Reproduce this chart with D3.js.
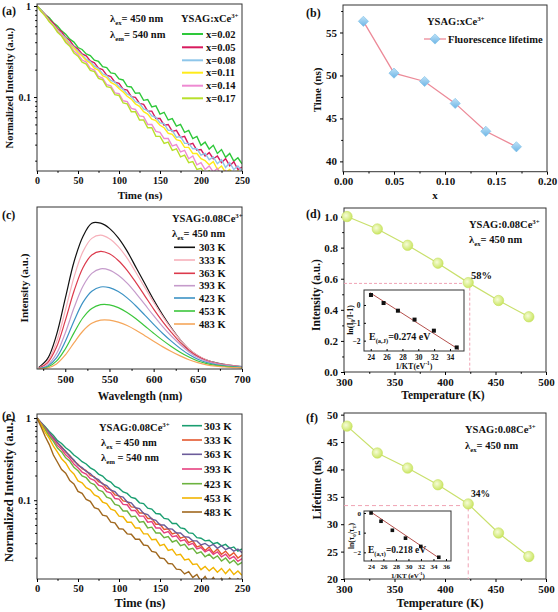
<!DOCTYPE html>
<html><head><meta charset="utf-8">
<script src="https://cdn.jsdelivr.net/npm/d3@7"></script>
<style>
body{margin:0;background:#fff}
svg{display:block}
text{font-family:"Liberation Serif","Times New Roman",serif;font-weight:bold;fill:#111}
</style></head><body>
<svg id="chart" width="558" height="612"></svg>
<script>
// ---------- DATA ----------
const timeNs = [0,5,10,15,20,25,30,35,40,45,50,55,60,65,70,75,80,85,90,95,100,105,110,115,120,125,130,135,140,145,150,155,160,165,170,175,180,185,190,195,200,205,210,215,220,225,230,235,240,245,250];

// (a) YSAG:xCe decay curves
const concLabels = ["x=0.02","x=0.05","x=0.08","x=0.11","x=0.14","x=0.17"];
const decayX002 = [1,.905,.808,.741,.655,.602,.533,.49,.432,.401,.35,.333,.298,.286,.254,.246,.216,.211,.184,.181,.158,.154,.131,.129,.11,.111,.092,.094,.078,.08,.065,.068,.056,.058,.048,.05,.041,.043,.035,.037,.0295,.032,.0268,.0295,.024,.0265,.0218,.024,.0198,.0215,.0185];
const decayX005 = [1,.89,.806,.71,.648,.566,.52,.452,.418,.362,.336,.297,.283,.249,.238,.207,.2,.174,.168,.146,.141,.122,.119,.101,.099,.085,.083,.07,.07,.058,.058,.049,.05,.042,.043,.036,.037,.03,.031,.026,.0265,.0225,.0245,.021,.0225,.019,.021,.0175,.0195,.016,.017];
const decayX008 = [1,.884,.79,.69,.62,.55,.49,.445,.39,.355,.318,.29,.26,.245,.218,.205,.18,.172,.152,.146,.13,.122,.108,.102,.089,.086,.074,.071,.062,.06,.052,.051,.043,.043,.036,.037,.031,.031,.027,.027,.023,.024,.0205,.022,.0185,.0205,.0168,.019,.016,.0175,.0155];
const decayX011 = [1,.88,.775,.69,.605,.54,.478,.43,.38,.345,.308,.282,.252,.236,.208,.197,.172,.164,.145,.137,.124,.114,.102,.095,.084,.079,.069,.065,.057,.055,.049,.046,.04,.039,.034,.033,.028,.028,.024,.024,.021,.02,.018,.0195,.016,.0175,.0148,.016,.014,.0155,.0135];
const decayX014 = [1,.875,.79,.68,.615,.53,.48,.41,.375,.32,.294,.255,.242,.206,.198,.168,.162,.137,.133,.111,.109,.091,.089,.075,.073,.062,.061,.05,.05,.042,.041,.035,.035,.029,.03,.025,.026,.021,.0225,.018,.019,.016,.0175,.015,.0165,.0138,.0155,.0132,.015,.0125,.0135];
const decayX017 = [1,.87,.78,.67,.603,.515,.468,.398,.362,.305,.281,.242,.23,.196,.19,.16,.155,.13,.127,.106,.104,.086,.084,.069,.069,.056,.056,.046,.046,.037,.037,.031,.032,.026,.027,.022,.023,.019,.0195,.016,.0165,.0145,.0155,.013,.0145,.0125,.014,.012,.0135,.0118,.013];

// (b) lifetime vs concentration
const concX = [0.02,0.05,0.08,0.11,0.14,0.17];
const lifetimeConc = [56.3,50.27,49.3,46.75,43.5,41.7];

// (c) emission spectra
const wavelengths = [470,480,490,500,510,520,530,540,550,560,570,580,590,600,610,620,630,640,650,660,670,680,690,700];
const tempLabels = ["303 K","333 K","363 K","393 K","423 K","453 K","483 K"];
const spec303 = [.01,.07,.23,.48,.73,.90,.99,.99,.955,.89,.80,.69,.58,.47,.37,.28,.20,.135,.09,.06,.043,.032,.023,.016];
const spec333 = [.007,.053,.182,.396,.626,.797,.887,.909,.885,.831,.753,.655,.554,.453,.359,.274,.199,.136,.091,.061,.042,.031,.023,.016];
const spec363 = [.006,.042,.147,.328,.531,.688,.774,.799,.782,.737,.670,.586,.497,.407,.324,.249,.181,.126,.084,.056,.039,.028,.021,.015];
const spec393 = [.003,.028,.104,.245,.417,.562,.649,.680,.671,.636,.583,.514,.438,.362,.290,.224,.166,.116,.078,.052,.036,.026,.019,.014];
const spec423 = [.002,.019,.076,.187,.328,.452,.528,.557,.552,.526,.483,.428,.366,.303,.243,.189,.140,.098,.066,.044,.030,.022,.016,.011];
const spec453 = [.001,.012,.053,.136,.247,.348,.411,.437,.436,.417,.384,.341,.292,.243,.196,.153,.114,.081,.054,.036,.024,.018,.013,.009];
const spec483 = [.001,.007,.034,.095,.179,.258,.310,.332,.332,.318,.295,.263,.226,.189,.152,.119,.089,.063,.043,.028,.019,.014,.010,.007];

// (d) integrated intensity vs temperature
const temps = [303,333,363,393,423,453,483];
const intensityT = [1.0,0.92,0.815,0.70,0.575,0.46,0.355];
const invKT = [24.03,25.62,27.43,29.53,31.97,34.85];
const lnIntensity = [0.56,0.11,-0.32,-0.82,-1.44,-2.38];
const fitIntensity = [[23.9,0.69],[35.1,-2.49]];

// (e) decay curves vs temperature
const decay303 = [1,.88,.785,.685,.612,.532,.49,.435,.4,.355,.327,.294,.276,.248,.233,.208,.197,.175,.166,.147,.14,.126,.121,.108,.105,.093,.091,.08,.078,.069,.068,.06,.059,.052,.052,.046,.045,.04,.0395,.035,.0345,.032,.0325,.0295,.0305,.0278,.029,.026,.027,.024,.0255];
const decay333 = [1,.865,.765,.655,.58,.495,.447,.386,.35,.3,.273,.242,.229,.2,.192,.168,.161,.139,.135,.116,.113,.098,.096,.083,.082,.07,.07,.06,.06,.051,.051,.044,.045,.039,.0405,.0345,.036,.0305,.032,.027,.028,.0245,.027,.023,.0255,.022,.024,.021,.023,.0198,.0215];
const decay363 = [1,.875,.755,.665,.57,.505,.438,.395,.342,.309,.266,.25,.224,.211,.188,.178,.158,.151,.133,.127,.112,.109,.095,.093,.081,.079,.069,.067,.059,.057,.05,.05,.045,.0445,.04,.04,.036,.0355,.032,.032,.0285,.0298,.0275,.029,.026,.028,.025,.0265,.024,.0255,.023];
const decay393 = [1,.855,.745,.628,.55,.462,.416,.357,.322,.275,.249,.22,.208,.183,.175,.153,.147,.127,.123,.105,.103,.089,.088,.075,.075,.064,.064,.054,.055,.046,.046,.04,.0415,.036,.037,.032,.033,.0285,.0298,.0255,.0265,.0235,.025,.022,.0235,.0205,.022,.0193,.0207,.018,.0195];
const decay423 = [1,.84,.725,.6,.52,.432,.387,.328,.298,.251,.228,.198,.188,.163,.155,.133,.127,.109,.105,.089,.086,.074,.074,.063,.064,.054,.055,.046,.047,.04,.04,.035,.0362,.031,.0325,.028,.029,.0252,.026,.0225,.0235,.0205,.022,.0195,.021,.0182,.0198,.0172,.0186,.0163,.0175];
const decay453 = [1,.83,.67,.565,.455,.385,.32,.284,.234,.209,.172,.163,.142,.134,.116,.11,.095,.091,.078,.075,.064,.063,.054,.054,.046,.046,.039,.039,.033,.0335,.028,.029,.0245,.0252,.0215,.022,.0188,.0192,.0165,.0168,.0143,.0156,.0138,.0152,.0133,.0148,.0128,.0145,.0125,.0138,.0122];
const decay483 = [1,.78,.595,.475,.355,.29,.236,.213,.173,.158,.128,.121,.102,.097,.081,.078,.066,.064,.054,.053,.045,.0445,.039,.0385,.0335,.0335,.0285,.028,.0238,.0232,.0198,.0195,.017,.0168,.0145,.0143,.0127,.0135,.0115,.0125,.0103,.0118,.0098,.0115,.0097,.0112,.0096,.0113,.0098,.0111,.0099];

// (f) lifetime vs temperature
const lifetimeT = [47.9,43.0,40.25,37.2,33.7,28.4,24.1];
const lnLifetime = [0,-0.42,-0.88,-1.28,-1.7,-2.25];
const fitLifetime = [[24,0.05],[34.8,-2.27]];

// tick lists
const timeTicks = [0,50,100,150,200,250], timeMinor = [25,75,125,175,225];
const logMajor = [1,0.1], logMinor = [0.02,0.03,0.04,0.05,0.06,0.07,0.08,0.09,0.2,0.3,0.4,0.5,0.6,0.7,0.8,0.9];
const tempTicks = [300,350,400,450,500], tempMinor = [325,375,425,475];

// colours
const colA = ["#2ec83a","#d81b5e","#8ec6ea","#ffeb1a","#ee8ad2","#b8e02c"];
const colC = ["#111111","#f6b0ba","#dc3a4c","#c59bcb","#3c92c4","#3cc63c","#f5a65a"];
const colE = ["#1a9e70","#e4572e","#6c5c9a","#e6407f","#6cb33f","#f2b400","#a0681e"];

// ---------- HELPERS ----------
const svg = d3.select("#chart");
const defs = svg.append("defs");
const grad = defs.append("radialGradient").attr("id","ballG").attr("cx","40%").attr("cy","40%").attr("r","60%");
grad.append("stop").attr("offset","0%").attr("stop-color","#f6fcd8");
grad.append("stop").attr("offset","100%").attr("stop-color","#cbe665");
const gradB = defs.append("linearGradient").attr("id","diaG").attr("x1","0").attr("y1","0").attr("x2","1").attr("y2","1");
gradB.append("stop").attr("offset","0%").attr("stop-color","#bfe2f7");
gradB.append("stop").attr("offset","100%").attr("stop-color","#6db5e6");

function clip(id,x0,y0,x1,y1){ defs.append("clipPath").attr("id",id).append("rect").attr("x",x0).attr("y",y0).attr("width",x1-x0).attr("height",y1-y0); }
function frame(x0,y0,x1,y1,fill){ svg.append("rect").attr("x",x0).attr("y",y0).attr("width",x1-x0).attr("height",y1-y0).attr("fill",fill||"none").attr("stroke","#333").attr("stroke-width",1); }
function axisX(sc,y,major,minor,fmt,fs,size,pad){
  size=(size===undefined)?3:size; pad=pad||3;
  const a = svg.append("g").attr("transform",`translate(0,${y})`).call(d3.axisBottom(sc).tickValues(major).tickFormat(fmt).tickSize(size).tickPadding(pad));
  a.select(".domain").remove(); a.selectAll("text").attr("font-size",fs);
  if(minor){ const m = svg.append("g").attr("transform",`translate(0,${y})`).call(d3.axisBottom(sc).tickValues(minor).tickFormat("").tickSize(size*0.6)); m.select(".domain").remove(); }
}
function axisY(sc,x,major,minor,fmt,fs,size,pad){
  size=(size===undefined)?3:size; pad=pad||3;
  const a = svg.append("g").attr("transform",`translate(${x},0)`).call(d3.axisLeft(sc).tickValues(major).tickFormat(fmt).tickSize(size).tickPadding(pad));
  a.select(".domain").remove(); a.selectAll("text").attr("font-size",fs);
  if(minor){ const m = svg.append("g").attr("transform",`translate(${x},0)`).call(d3.axisLeft(sc).tickValues(minor).tickFormat("").tickSize(size*0.6)); m.select(".domain").remove(); }
}
function rich(x,y,parts,size,anchor,rot){
  const t = svg.append("text").attr("x",x).attr("y",y).attr("font-size",size);
  if(anchor) t.attr("text-anchor",anchor);
  if(rot) t.attr("transform",`rotate(-90,${x},${y})`);
  let cur=0;
  parts.forEach(p=>{
    let s=p,k='';
    if(Array.isArray(p)){s=p[0];k=p[1];}
    const target = k==='sub'? size*0.3 : (k==='sup'? -size*0.4 : 0);
    const ts = t.append("tspan").text(s).attr("dy",target-cur);
    if(k) ts.attr("font-size",size*0.65);
    cur=target;
  });
  return t;
}

// ---------- PANEL A ----------
const xA = d3.scaleLinear().domain([0,250]).range([37,242]);
const yA = d3.scaleLog().domain([0.0154,1.052]).range([171,4]);
clip("clipA",37,4,242,171);
const lineA = d3.line().x((d,i)=>xA(timeNs[i])).y(d=>yA(d));
const gA = svg.append("g").attr("clip-path","url(#clipA)");
[decayX002,decayX005,decayX008,decayX011,decayX014,decayX017].forEach((s,i)=>{
  gA.append("path").datum(s).attr("d",lineA).attr("fill","none").attr("stroke",colA[i]).attr("stroke-width",1.4);
});
frame(37,4,242,171);
axisX(xA,171,timeTicks,timeMinor,d3.format("d"),10);
axisY(yA,37,logMajor,logMinor,d=>d===1?"1":"0.1",10);
rich(2,15,["(a)"],12);
rich(13,88,["Normalized Intensity (a.u.)"],10.5,"middle",true);
rich(140,199,["Time (ns)"],11,"middle");
rich(110,22,["λ",["ex","sub"],"= 450 nm"],10.5);
rich(110,38,["λ",["em","sub"],"= 540 nm"],10.5);
rich(181,22,["YSAG:xCe",["3+","sup"]],10.5);
const legAy = [34,47.3,60.3,72.7,85.7,98.3];
concLabels.forEach((l,i)=>{
  svg.append("line").attr("x1",182).attr("x2",203).attr("y1",legAy[i]).attr("y2",legAy[i]).attr("stroke",colA[i]).attr("stroke-width",2);
  rich(206,legAy[i]+3.6,[l],10.5);
});

// ---------- PANEL B ----------
const xB = d3.scaleLinear().domain([0,0.2]).range([343,547]);
const yB = d3.scaleLinear().domain([38.8,58.2]).range([171.7,5]);
frame(343,5,547,171.7);
axisX(xB,171.7,[0,0.05,0.1,0.15,0.2],[0.025,0.075,0.125,0.175],d3.format(".2f"),11);
axisY(yB,343,[40,45,50,55],[42.5,47.5,52.5,57.5],d3.format("d"),11);
svg.append("path").datum(lifetimeConc).attr("d",d3.line().x((d,i)=>xB(concX[i])).y(d=>yB(d))).attr("fill","none").attr("stroke","#ec8a98").attr("stroke-width",1.3);
const diamond = d3.symbol().type(d3.symbolSquare).size(52);
svg.selectAll(".dia").data(lifetimeConc).enter().append("path").attr("d",diamond)
  .attr("transform",(d,i)=>`translate(${xB(concX[i])},${yB(d)}) rotate(45)`).attr("fill","url(#diaG)").attr("stroke","#7dbfe8").attr("stroke-width",0.6);
rich(306,17,["(b)"],12);
rich(321,90,["Time (ns)"],11,"middle",true);
rich(435,199,["x"],11,"middle");
rich(427,25,["YSAG:xCe",["3+","sup"]],10.5);
svg.append("line").attr("x1",424).attr("x2",446).attr("y1",39).attr("y2",39).attr("stroke","#ec8a98").attr("stroke-width",1.3);
svg.append("path").attr("d",diamond).attr("transform","translate(435,39) rotate(45)").attr("fill","url(#diaG)").attr("stroke","#7dbfe8").attr("stroke-width",0.6);
rich(448,42.6,["Fluorescence lifetime"],10.5);

// ---------- PANEL C ----------
const xC = d3.scaleLinear().domain([468,700]).range([37,242]);
const yC = d3.scaleLinear().domain([0,1.1]).range([369,207]);
clip("clipC",37,207,242,369);
const lineC = d3.line().x((d,i)=>xC(wavelengths[i])).y(d=>yC(d)).curve(d3.curveCatmullRom.alpha(0.5));
const gC = svg.append("g").attr("clip-path","url(#clipC)");
[spec303,spec333,spec363,spec393,spec423,spec453,spec483].forEach((s,i)=>{
  gC.append("path").datum(s).attr("d",lineC).attr("fill","none").attr("stroke",colC[i]).attr("stroke-width",1.2);
});
frame(37,207,242,369);
axisX(xC,369,[500,550,600,650,700],[475,525,575,625,675],d3.format("d"),11);
rich(2,219,["(c)"],12);
rich(28,288,["Intensity (a.u.)"],11,"middle",true);
rich(140,400,["Wavelength (nm)"],11.5,"middle");
rich(172,222,["YSAG:0.08Ce",["3+","sup"]],10.5);
rich(172,237,["λ",["ex","sub"],"= 450 nm"],10.5);
const legCy = [247.3,260,273.3,285.7,298,311,324];
tempLabels.forEach((l,i)=>{
  svg.append("line").attr("x1",174).attr("x2",195).attr("y1",legCy[i]).attr("y2",legCy[i]).attr("stroke",colC[i]).attr("stroke-width",1.6);
  rich(199,legCy[i]+3.6,[l],10.5);
});

// ---------- PANEL D ----------
const xD = d3.scaleLinear().domain([300,500]).range([344,546]);
const yD = d3.scaleLinear().domain([0,1.055]).range([372,208]);
frame(344,208,546,372);
axisX(xD,372,tempTicks,tempMinor,d3.format("d"),11);
axisY(yD,344,[0,0.2,0.4,0.6,0.8,1.0],[0.1,0.3,0.5,0.7,0.9],d3.format(".1f"),11);
svg.append("path").attr("d",`M${xD(300)},${yD(0.57)}H${xD(424.5)}V${yD(0)}`).attr("fill","none").attr("stroke","#f0a3b4").attr("stroke-width",1).attr("stroke-dasharray","3,2");
svg.append("path").datum(intensityT).attr("d",d3.line().x((d,i)=>xD(temps[i])).y(d=>yD(d))).attr("fill","none").attr("stroke","#c9e06c").attr("stroke-width",1.2);
svg.selectAll(".ballD").data(intensityT).enter().append("circle").attr("cx",(d,i)=>xD(temps[i])).attr("cy",d=>yD(d)).attr("r",5.2).attr("fill","url(#ballG)").attr("stroke","#c6e05e").attr("stroke-width",0.6);
rich(471,279,["58%"],10.5);
rich(306,218,["(d)"],12);
rich(320,295,["Intensity (a.u.)"],11.5,"middle",true);
rich(443,399,["Temperature (K)"],11.5,"middle");
rich(469,228,["YSAG:0.08Ce",["3+","sup"]],10.5);
rich(469,243,["λ",["ex","sub"],"= 450 nm"],10.5);
// inset d
frame(364,290,464,351,"#fff");
const xDi = d3.scaleLinear().domain([23.15,35.77]).range([364,464]);
const yDi = d3.scaleLinear().domain([-2.58,0.84]).range([351,290]);
axisX(xDi,351,[24,26,28,30,32,34],null,d3.format("d"),7.5,-2,3.5);
axisY(yDi,364,[0,-1,-2],null,d3.format("d"),7.5,-2,3.5);
svg.append("line").attr("x1",xDi(fitIntensity[0][0])).attr("y1",yDi(fitIntensity[0][1])).attr("x2",xDi(fitIntensity[1][0])).attr("y2",yDi(fitIntensity[1][1])).attr("stroke","#b5504c").attr("stroke-width",1);
svg.selectAll(".sqD").data(lnIntensity).enter().append("rect").attr("x",(d,i)=>xDi(invKT[i])-2).attr("y",d=>yDi(d)-2).attr("width",4).attr("height",4).attr("fill","#111");
rich(414,368.5,["1/KT(eV",["-1","sup"],")"],8,"middle");
rich(353,320,["ln(I",["0","sub"],"/I-1)"],8,"middle",true);
rich(369,340,["E",["(a,J)","sub"],"=0.274 eV"],10);

// ---------- PANEL E ----------
const xE = d3.scaleLinear().domain([0,250]).range([37,242]);
const yE = d3.scaleLog().domain([0.011,1.12]).range([579,414]);
clip("clipE",37,414,242,579);
const lineE = d3.line().x((d,i)=>xE(timeNs[i])).y(d=>yE(d));
const gE = svg.append("g").attr("clip-path","url(#clipE)");
[decay303,decay333,decay363,decay393,decay423,decay453,decay483].forEach((s,i)=>{
  gE.append("path").datum(s).attr("d",lineE).attr("fill","none").attr("stroke",colE[i]).attr("stroke-width",1.4);
});
frame(37,414,242,579);
axisX(xE,579,timeTicks,timeMinor,d3.format("d"),10.5);
axisY(yE,37,logMajor,logMinor,d=>d===1?"1":"0.1",10.5);
rich(2,420,["(e)"],12);
rich(13,490,["Normalized Intensity (a.u.)"],12.5,"middle",true);
rich(140,607,["Time (ns)"],12.5,"middle");
rich(99,431,["YSAG:0.08Ce",["3+","sup"]],10.5);
rich(101,446,["λ",["ex","sub"]," = 450 nm"],10.5);
rich(101,461,["λ",["em","sub"]," = 540 nm"],10.5);
const legEy = [425.7,440,454.3,469,483.7,498,512];
tempLabels.forEach((l,i)=>{
  svg.append("line").attr("x1",182).attr("x2",202).attr("y1",legEy[i]).attr("y2",legEy[i]).attr("stroke",colE[i]).attr("stroke-width",1.6);
  rich(204,legEy[i]+4,[l],11);
});

// ---------- PANEL F ----------
const xF = d3.scaleLinear().domain([300,500]).range([344,546]);
const yF = d3.scaleLinear().domain([20,50.3]).range([579,413]);
frame(344,413,546,579);
axisX(xF,579,tempTicks,tempMinor,d3.format("d"),11);
axisY(yF,344,[20,25,30,35,40,45,50],null,d3.format("d"),11);
svg.append("path").attr("d",`M${xF(300)},${yF(33.4)}H${xF(423)}V${yF(20)}`).attr("fill","none").attr("stroke","#f0a3b4").attr("stroke-width",1).attr("stroke-dasharray","4,3");
svg.append("path").datum(lifetimeT).attr("d",d3.line().x((d,i)=>xF(temps[i])).y(d=>yF(d))).attr("fill","none").attr("stroke","#c9e06c").attr("stroke-width",1.2);
svg.selectAll(".ballF").data(lifetimeT).enter().append("circle").attr("cx",(d,i)=>xF(temps[i])).attr("cy",d=>yF(d)).attr("r",5.2).attr("fill","url(#ballG)").attr("stroke","#c6e05e").attr("stroke-width",0.6);
rich(471,497,["34%"],9.5);
rich(306,422,["(f)"],12);
rich(321,488,["Lifetime (ns)"],11.5,"middle",true);
rich(440,607,["Temperature (K)"],12,"middle");
rich(465,433,["YSAG:0.08Ce",["3+","sup"]],10.5);
rich(465,449,["λ",["ex","sub"],"= 450 nm"],10.5);
// inset f
frame(364,511,451,561,"#fff");
const xFi = d3.scaleLinear().domain([22.9,36.8]).range([364,451]);
const yFi = d3.scaleLinear().domain([-2.44,0.1]).range([561,511]);
axisX(xFi,561,[24,26,28,30,32,34,36],null,d3.format("d"),7,-2,3);
axisY(yFi,364,[0,-1,-2],null,d3.format("d"),7,-2,3);
svg.append("line").attr("x1",xFi(fitLifetime[0][0])).attr("y1",yFi(fitLifetime[0][1])).attr("x2",xFi(fitLifetime[1][0])).attr("y2",yFi(fitLifetime[1][1])).attr("stroke","#b5504c").attr("stroke-width",1);
svg.selectAll(".sqF").data(lnLifetime).enter().append("rect").attr("x",(d,i)=>xFi(invKT[i])-1.8).attr("y",d=>yFi(d)-1.8).attr("width",3.6).attr("height",3.6).attr("fill","#111");
rich(408,577.5,["1/KT (eV",["-1","sup"],")"],7,"middle");
rich(354,536,["ln(τ",["0","sub"],"/τ",["T","sub"],")"],7.5,"middle",true);
rich(368,553,["E",["(a,τ)","sub"],"=0.218 eV"],9.5);
</script></body></html>
